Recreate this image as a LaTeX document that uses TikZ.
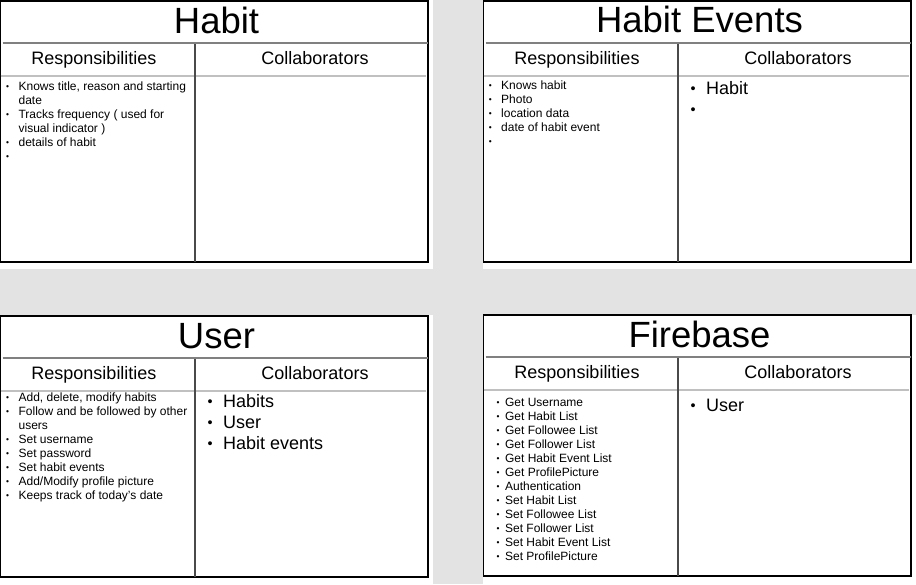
\documentclass[tikz,border=0pt]{standalone}
\usepackage{fontspec}
\setmainfont{Liberation Sans}
\usepackage{tikz}
\usetikzlibrary{positioning}
\definecolor{bggray}{HTML}{E3E3E3}
\definecolor{rulegray}{HTML}{808080}
\definecolor{headgray}{HTML}{C0C0C0}
\definecolor{colgray}{HTML}{4A4A4A}
\tikzset{
	cardtitle/.style={anchor=base, inner sep=0pt, font=\fontsize{36.5}{40}\selectfont},
	colhead/.style={anchor=base, inner sep=0pt, font=\fontsize{18}{21}\selectfont},
	smalllist/.style={anchor=base west, align=left, inner sep=0pt, font=\fontsize{12}{14}\selectfont},
	biglist/.style={anchor=base west, align=left, inner sep=0pt, font=\fontsize{18}{21}\selectfont}
}
\def\smdot{\hspace*{0.6pt}\raisebox{0.9pt}{\scalebox{0.7}{\textbullet}}}
\def\bsm{\makebox[13pt][l]{\smdot}}
\def\csm{\hspace*{13pt}}
\def\bfb{\makebox[9pt][l]{\smdot}}
\def\bbg{\makebox[16pt][l]{\hspace*{0.6pt}\raisebox{1pt}{\scalebox{0.8}{\textbullet}}}}
\def\crcframe(#1,#2){
	\draw[line width=1.2pt] (#1+0.6, #2) rectangle (#1+428, #2+261);
	\draw[line width=2pt, rulegray] (#1+2.5, #2+42) -- (#1+428, #2+42);
	\draw[line width=2pt, headgray] (#1+0.6, #2+74.5) -- (#1+426, #2+74.5);
	\draw[line width=1.4pt, colgray] (#1+195, #2+43) -- (#1+195, #2+261);
}

\begin{document}
\begin{tikzpicture}[x=1pt, y=-1pt]
			%%%%% START %%%%%
			\useasboundingbox (0, 0) rectangle (916, 584);
			\fill[bggray] (0, 0) rectangle (916, 584);
			
			\fill[white] (0, 0) rectangle (433, 269);
			\fill[white] (483, 0) rectangle (916, 269);
			\fill[white] (0, 315) rectangle (433, 584);
			\fill[white] (483, 315) rectangle (916, 584);
			
			\crcframe(0,1)
			\crcframe(483,1)
			\crcframe(0,316)
			\crcframe(483,315)
			
			% Habit (lists sit on the baseline of their last line)
			\node[cardtitle] (habit) at (216.5, 33) {Habit};
			\node[colhead] (habitresphead) at (94, 64.5) {Responsibilities};
			\node[colhead] (habitcollhead) at (315, 64.5) {Collaborators};
			\node[smalllist] (habitresp) at (5.4, 160) {\bsm Knows title, reason and starting\\ \csm date\\ \bsm Tracks frequency ( used for\\ \csm visual indicator )\\ \bsm details of habit\\ \bsm};
			
			% Habit Events
			\node[cardtitle] (events) at (699.5, 32.8) {Habit Events};
			\node[colhead] (eventsresphead) at (577, 64.5) {Responsibilities};
			\node[colhead] (eventscollhead) at (798, 64.5) {Collaborators};
			\node[smalllist] (eventsresp) at (488, 145) {\bsm Knows habit\\ \bsm Photo\\ \bsm location data\\ \bsm date of habit event\\ \bsm};
			\node[biglist] (eventscoll) at (689.9, 115.5) {\bbg Habit\\ \bbg};
			
			% User
			\node[cardtitle] (user) at (216.5, 348.8) {User};
			\node[colhead] (userresphead) at (94, 379.5) {Responsibilities};
			\node[colhead] (usercollhead) at (315, 379.5) {Collaborators};
			\node[smalllist] (userresp) at (5.4, 499.5) {\bsm Add, delete, modify habits\\ \bsm Follow and be followed by other\\ \csm users\\ \bsm Set username\\ \bsm Set password\\ \bsm Set habit events\\ \bsm Add/Modify profile picture\\ \bsm Keeps track of today’s date};
			\node[biglist] (usercoll) at (206.9, 449.5) {\bbg Habits\\ \bbg User\\ \bbg Habit events};
			
			% Firebase
			\node[cardtitle] (firebase) at (699.5, 347.8) {Firebase};
			\node[colhead] (firebaseresphead) at (577, 378.5) {Responsibilities};
			\node[colhead] (firebasecollhead) at (798, 378.5) {Collaborators};
			\node[smalllist] (firebaseresp) at (495.9, 560) {\bfb Get Username\\ \bfb Get Habit List\\ \bfb Get Followee List\\ \bfb Get Follower List\\ \bfb Get Habit Event List\\ \bfb Get ProfilePicture\\ \bfb Authentication\\ \bfb Set Habit List\\ \bfb Set Followee List\\ \bfb Set Follower List\\ \bfb Set Habit Event List\\ \bfb Set ProfilePicture};
			\node[biglist] (firebasecoll) at (689.9, 411.5) {\bbg User};
			%%%%% END %%%%%
\end{tikzpicture}
\end{document}
